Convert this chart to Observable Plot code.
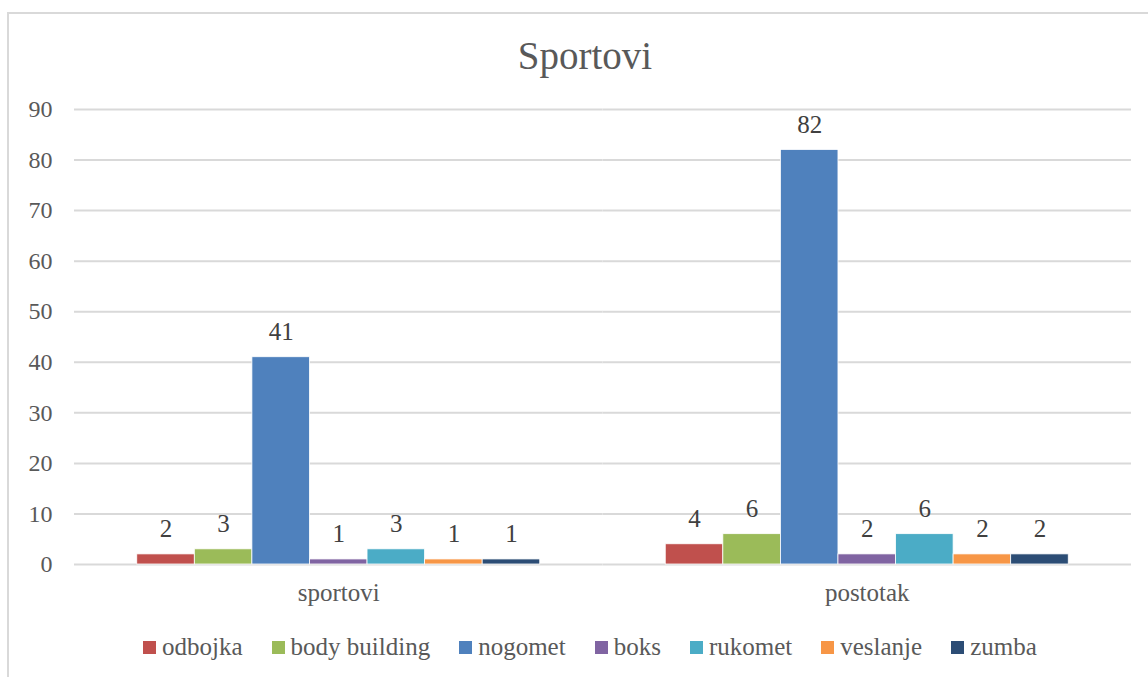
<!DOCTYPE html>
<html>
<head>
<meta charset="utf-8">
<script src="https://cdn.jsdelivr.net/npm/d3@7"></script>
<script src="https://cdn.jsdelivr.net/npm/@observablehq/plot@0.6"></script>
<style>
  html, body { margin: 0; padding: 0; background: #fff; }
  body { width: 1148px; height: 677px; position: relative; overflow: hidden; font-family: "Liberation Serif", serif; }
  #frame { position: absolute; left: 7px; top: 12px; width: 1160px; height: 700px; border-left: 2px solid #d9d9d9; border-top: 2px solid #d9d9d9; }
  #title { position: absolute; left: 0; width: 1170px; top: 34px; text-align: center; font-size: 39px; color: #595959; line-height: 44px; }
  #chart { position: absolute; left: 0; top: 90px; }
  #legend { position: absolute; left: 143px; top: 632px; display: flex; justify-content: flex-start; gap: 29px; font-size: 25px; color: #595959; line-height: 30px; white-space: nowrap; }
  .item { display: flex; align-items: center; gap: 6px; }
  .sw { width: 13px; height: 13px; display: inline-block; }
</style>
</head>
<body>
<div id="frame"></div>
<div id="title">Sportovi</div>
<div id="chart"></div>
<div id="legend"></div>
<script>
const groups = ["sportovi", "postotak"];
const series = ["odbojka", "body building", "nogomet", "boks", "rukomet", "veslanje", "zumba"];
const colors = ["#C0504D", "#9BBB59", "#4F81BD", "#8064A2", "#4BACC6", "#F79646", "#2C4D75"];
const sportoviValues = [2, 3, 41, 1, 3, 1, 1];
const postotakValues = [4, 6, 82, 2, 6, 2, 2];
const yTicks = [0, 10, 20, 30, 40, 50, 60, 70, 80, 90];

const data = [];
series.forEach((s, i) => data.push({group: "sportovi", series: s, value: sportoviValues[i]}));
series.forEach((s, i) => data.push({group: "postotak", series: s, value: postotakValues[i]}));

const chart = Plot.plot({
  width: 1148,
  height: 530,
  marginLeft: 74,
  marginRight: 17,
  marginTop: 19,
  marginBottom: 56,
  style: {fontFamily: "'Liberation Serif', serif", fontSize: "25px", color: "#595959", background: "transparent"},
  fx: {domain: groups, padding: 0, round: false, axis: "bottom", label: null, tickSize: 0, tickPadding: 19, fontSize: 26},
  x: {domain: series, paddingInner: 0, paddingOuter: 1.09, round: false, axis: null},
  y: {domain: [0, 90], ticks: yTicks, label: null, tickSize: 0, tickPadding: 22},
  color: {domain: series, range: colors},
  marks: [
    Plot.gridY(yTicks, {stroke: "#d9d9d9", strokeOpacity: 1, strokeWidth: 2}),
    Plot.axisY(yTicks, {tickSize: 0, tickPadding: 22, fontSize: 24, fill: "#595959", label: null}),
    Plot.barY(data, {fx: "group", x: "series", y: "value", fill: "series", stroke: "white", strokeWidth: 0.8}),
    Plot.text(data, {fx: "group", x: "series", y: "value", text: d => String(d.value), dy: -25, fontSize: 25, fill: "#404040"})
  ]
});
document.getElementById("chart").appendChild(chart);

const legend = document.getElementById("legend");
series.forEach((s, i) => {
  const item = document.createElement("div");
  item.className = "item";
  const sw = document.createElement("span");
  sw.className = "sw";
  sw.style.background = colors[i];
  const label = document.createElement("span");
  label.textContent = s;
  item.appendChild(sw);
  item.appendChild(label);
  legend.appendChild(item);
});
</script>
</body>
</html>
